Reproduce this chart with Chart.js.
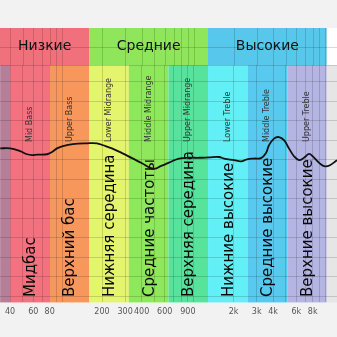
<!DOCTYPE html>
<html>
<head>
<meta charset="utf-8">
<script src="https://cdn.jsdelivr.net/npm/chart.js@4"></script>
<style>
  html, body { margin: 0; padding: 0; background: #f2f2f2; }
  #wrap { width: 337px; height: 337px; }
</style>
</head>
<body>
<div id="wrap"><canvas id="chart_freq" width="337" height="337"></canvas></div>
<script>
// octave bands (Hz)
var bandEdges = [40, 80, 160, 320, 640, 1280, 2560, 5120, 10240];
var bandNamesEn = ["Mid Bass", "Upper Bass", "Lower Midrange", "Middle Midrange", "Upper Midrange", "Lower Treble", "Middle Treble", "Upper Treble"];
var bandNamesRu = ["Мидбас", "Верхний бас", "Нижняя середина", "Средние частоты", "Верхняя середина", "Нижние высокие", "Средние высокие", "Верхние высокие"];

var groupNames = ["Низкие", "Средние", "Высокие"];
var groupEdges = [160, 1280]; // inner borders, outer ones are the bands

var tickValues = [40, 60, 80, 200, 300, 400, 600, 900, 2000, 3000, 4000, 6000, 8000];
var tickLabels = ["40", "60", "80", "200", "300", "400", "600", "900", "2k", "3k", "4k", "6k", "8k"];
var gridValues = [40, 50, 60, 70, 80, 90, 100, 200, 300, 400, 500, 600, 700, 800, 900,
                  1000, 2000, 3000, 4000, 5000, 6000, 7000, 8000, 9000, 10000];

// response curve
var freqs = [33.6, 40, 47.7, 53.9, 58.8, 64.2, 76.4, 83.4, 91, 101, 120, 154, 183, 204, 238,
             284, 338, 403, 464, 506, 553, 603, 682, 771, 918, 1094, 1302, 1552, 1694, 2018,
             2280, 2533, 2864, 3236, 3532, 3723, 4064, 4435, 4841, 5283, 5768, 6295, 6870,
             7499, 8044, 9091, 9924, 10831, 12248];
var levels = [-2.1, -2.1, -2.8, -3.6, -3.8, -3.7, -3.6, -3.0, -2.1, -1.5, -1.0, -0.8, -0.8, -1.3, -2.1,
              -3.3, -4.6, -5.9, -7.1, -7.3, -6.7, -6.2, -5.4, -4.7, -4.5, -4.5, -4.4, -4.3, -4.7, -5.1,
              -5.4, -4.9, -4.7, -4.6, -3.3, -1.3, 0.4, 0.8, 0, -2.1, -4.1, -5.1, -4.5,
              -3.5, -4.2, -6.0, -6.7, -6.4, -5.1];

// colours
var band_color = [
    "#b57f98", // purple
    "#f2737f", // red
    "#f7975c", // orange
    "#e4f46c", // yellow
    "#8fe85c", // green
    "#58e39c", // teal
    "#62f0f6", // cyan
    "#58c9ef", // blue
    "#b5b5e3", // lavender
    "#e6e6e6"  // gray
];
var group_color = ["#f0707c", "#8fe65a", "#57c8ec"];
var grid_color = "rgba(0,0,0,0.15)";

var HEADER_BOTTOM = 19.2;
var HEADER_MID = 23.8;

var bandsPlugin = {
    id: "bands",
    beforeDraw: function (chart) {
        var ctx = chart.ctx, a = chart.chartArea, x = chart.scales.x;
        ctx.save();
        ctx.fillStyle = "#f2f2f2";
        ctx.fillRect(0, 0, chart.width, chart.height);
        var edges = [x.min].concat(bandEdges, [x.max]);
        for (var i = 0; i < edges.length - 1; i++) {
            var l = x.getPixelForValue(edges[i]);
            var r = x.getPixelForValue(edges[i + 1]);
            ctx.fillStyle = band_color[i];
            ctx.fillRect(l, a.top, r - l, a.bottom - a.top);
        }
        ctx.restore();
    },
    beforeDatasetsDraw: function (chart) {
        var ctx = chart.ctx, a = chart.chartArea, x = chart.scales.x, y = chart.scales.y;
        var top = a.top, bot = y.getPixelForValue(HEADER_BOTTOM), mid = y.getPixelForValue(HEADER_MID);
        ctx.save();

        // header groups
        var edges = [x.min].concat(groupEdges, [bandEdges[bandEdges.length - 1]]);
        for (var i = 0; i < 3; i++) {
            var l = x.getPixelForValue(edges[i]);
            var r = x.getPixelForValue(edges[i + 1]);
            ctx.fillStyle = group_color[i];
            ctx.fillRect(l, top, r - l, bot - top);
        }
        var xr = x.getPixelForValue(bandEdges[bandEdges.length - 1]);
        ctx.fillStyle = "#ffffff";
        ctx.fillRect(xr, top, a.right - xr, bot - top);

        // header grid
        ctx.strokeStyle = grid_color;
        ctx.lineWidth = 1;
        ctx.beginPath();
        gridValues.forEach(function (v) {
            var px = Math.round(x.getPixelForValue(v)) + 0.5;
            ctx.moveTo(px, top);
            ctx.lineTo(px, bot);
        });
        ctx.moveTo(a.left, Math.round(mid) + 0.5);
        ctx.lineTo(a.right, Math.round(mid) + 0.5);
        ctx.moveTo(a.left, Math.round(bot) + 0.5);
        ctx.lineTo(a.right, Math.round(bot) + 0.5);
        ctx.stroke();

        // header text
        ctx.fillStyle = "#111";
        ctx.font = "14px 'DejaVu Sans'";
        ctx.textAlign = "center";
        ctx.textBaseline = "middle";
        for (var j = 0; j < 3; j++) {
            var c = (x.getPixelForValue(edges[j]) + x.getPixelForValue(edges[j + 1])) / 2;
            ctx.fillText(groupNames[j], c, (top + bot) / 2);
        }

        // band names, rotated
        for (var k = 0; k < bandNamesEn.length; k++) {
            var cx = (x.getPixelForValue(bandEdges[k]) + x.getPixelForValue(bandEdges[k + 1])) / 2;
            ctx.save();
            ctx.translate(cx, 142);
            ctx.rotate(-Math.PI / 2);
            ctx.textAlign = "left";
            ctx.fillStyle = "#333";
            ctx.font = "8px 'DejaVu Sans'";
            ctx.fillText(bandNamesEn[k], 0, 0);
            ctx.restore();

            ctx.save();
            ctx.translate(cx + 1, 297);
            ctx.rotate(-Math.PI / 2);
            ctx.textAlign = "left";
            ctx.fillStyle = "#0a0a0a";
            ctx.font = "15px 'DejaVu Sans'";
            ctx.fillText(bandNamesRu[k], 0, 0);
            ctx.restore();
        }
        ctx.restore();
    }
};

var ctx_freq = document.getElementById("chart_freq");
var chart_freq = new Chart(ctx_freq, {
    type: "line",
    data: {
        datasets: [
            {
                label: "Response",
                data: freqs.map(function (f, i) { return { x: f, y: levels[i] }; }),
                borderColor: "#111",
                borderWidth: 1.8,
                pointRadius: 0,
                tension: 0.4,
                fill: false,
            },
        ],
    },
    options: {
        responsive: false,
        animation: false,
        events: [],
        layout: { padding: { top: 28, left: 0, right: 0, bottom: 15 } },
        plugins: {
            legend: { display: false },
            tooltip: { enabled: false },
        },
        scales: {
            x: {
                type: "logarithmic",
                min: 33.6,
                max: 12248,
                afterBuildTicks: function (axis) {
                    axis.ticks = gridValues.map(function (v) { return { value: v }; });
                },
                grid: { color: grid_color, drawTicks: false },
                border: { display: false },
                ticks: {
                    autoSkip: false,
                    maxRotation: 0,
                    minRotation: 0,
                    padding: 5,
                    color: "#555",
                    font: { family: "DejaVu Sans", size: 8 },
                    callback: function (value) {
                        var i = tickValues.indexOf(value);
                        return i >= 0 ? tickLabels[i] : "";
                    },
                },
            },
            y: {
                min: -41.5,
                max: 28.7,
                afterBuildTicks: function (axis) {
                    var t = [];
                    for (var v = -40; v <= 25; v += 5) t.push({ value: v });
                    axis.ticks = t;
                },
                grid: { color: grid_color, drawTicks: false },
                border: { display: false },
                ticks: { display: false },
            },
        },
    },
    plugins: [bandsPlugin],
});
</script>
</body>
</html>
